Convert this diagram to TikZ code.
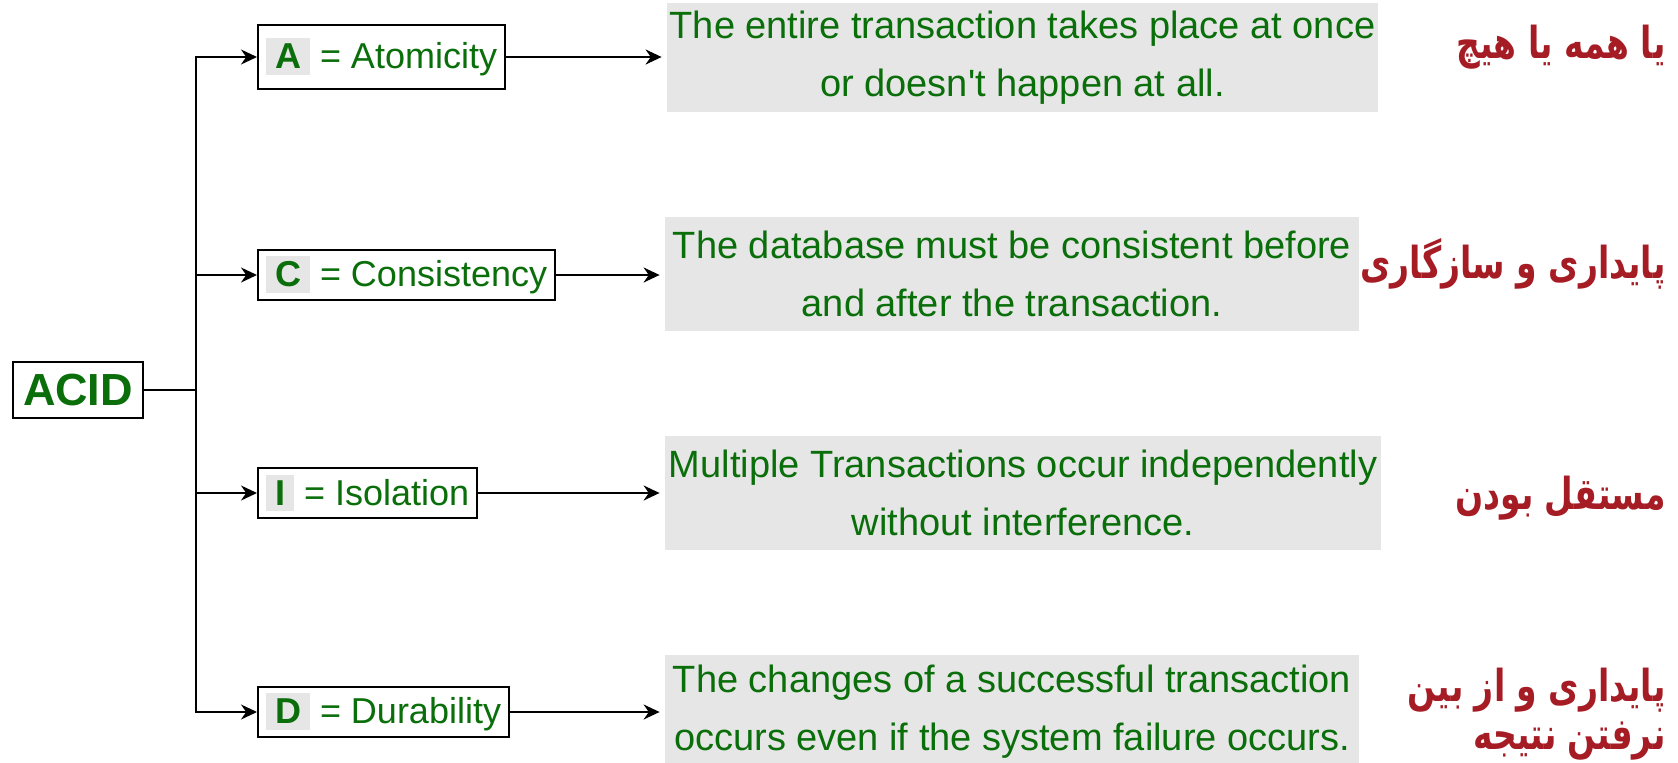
\documentclass[tikz,border=0pt]{standalone}
\usepackage{fontspec}
\setmainfont{Liberation Sans}
\newfontfamily\farsifont[Script=Arabic, FakeStretch=0.75]{DejaVu Sans}
\TeXXeTstate=1
\usetikzlibrary{arrows.meta, positioning}
\definecolor{txtgreen}{RGB}{10,110,10}
\definecolor{farsired}{RGB}{165,28,36}
\definecolor{boxgray}{RGB}{230,230,230}
\tikzset{
  letterbox/.style={draw, line width=1pt, text=txtgreen, font=\fontsize{18}{22}\selectfont, inner xsep=4pt, inner ysep=2pt, anchor=west, minimum height=25pt},
  descbox/.style={fill=boxgray, text=txtgreen, font=\fontsize{19}{29}\selectfont, align=center, inner sep=0pt},
  farsi/.style={text=farsired, font=\farsifont\bfseries\fontsize{22}{24}\selectfont, anchor=east, align=right, inner sep=0pt},
  conn/.style={line width=1pt},
  arr/.style={conn, -{Stealth[length=8pt, width=7.5pt]}}
}
\newcommand{\lettr}[1]{{\setlength{\fboxsep}{3pt}\colorbox{boxgray}{\hspace{1.5pt}\textbf{#1}\hspace{1.5pt}}}}

\begin{document}
\begin{tikzpicture}[x=0.5pt, y=-0.5pt]
    \useasboundingbox (0,0) rectangle (1678,762);
    % root
    \node[draw, line width=1pt, text=txtgreen, font=\bfseries\fontsize{22.5}{26}\selectfont, minimum width=65pt, minimum height=28pt, inner sep=0pt] (acid) at (78,390) {ACID};
    \coordinate (trunk) at (196,390);
    % properties
    \node[letterbox, minimum height=32pt] (atom) at (257,57) {\lettr{A} = Atomicity};
    \node[letterbox] (cons) at (257,275) {\lettr{C} = Consistency};
    \node[letterbox] (isol) at (257,493) {\lettr{I} = Isolation};
    \node[letterbox] (dura) at (257,712) {\lettr{D} = Durability};
    % descriptions
    \node[descbox, minimum width=355.5pt, minimum height=54.5pt] (atomdesc) at (1022.5,57.5) {The entire transaction takes place at once\\or doesn\textquotesingle t happen at all.};
    \node[descbox, minimum width=347pt, minimum height=57pt] (consdesc) at (1012,274) {The database must be consistent before\\and after the transaction.};
    \node[descbox, minimum width=358pt, minimum height=57pt] (isoldesc) at (1023,493) {Multiple Transactions occur independently\\without interference.};
    \node[descbox, minimum width=347pt, minimum height=57.5pt] (duradesc) at (1012,712) {The changes of a successful transaction\\occurs even if the system failure occurs.};
    % persian notes
    \node[farsi] (atomfa) at (1666,47) {\beginR یا همه یا هیچ\endR};
    \node[farsi] (consfa) at (1666,264) {\beginR پایداری و سازگاری\endR};
    \node[farsi] (isolfa) at (1666,498) {\beginR مستقل بودن\endR};
    \node[farsi] (durafa) at (1666,714) {\beginR پایداری و از بین\endR\\\beginR نرفتن نتیجه\endR};
    % connectors
    \draw[conn] (acid.east) -- (trunk);
    \draw[arr] (trunk) |- (atom.west);
    \draw[arr] (trunk) |- (dura.west);
    \draw[arr] (cons.west -| trunk) -- (cons.west);
    \draw[arr] (isol.west -| trunk) -- (isol.west);
    \draw[arr, shorten >=2.5pt] (atom.east) -- (atom.east -| atomdesc.west);
    \draw[arr, shorten >=2.5pt] (cons.east) -- (cons.east -| consdesc.west);
    \draw[arr, shorten >=2.5pt] (isol.east) -- (isol.east -| isoldesc.west);
    \draw[arr, shorten >=2.5pt] (dura.east) -- (dura.east -| duradesc.west);
\end{tikzpicture}
\end{document}
